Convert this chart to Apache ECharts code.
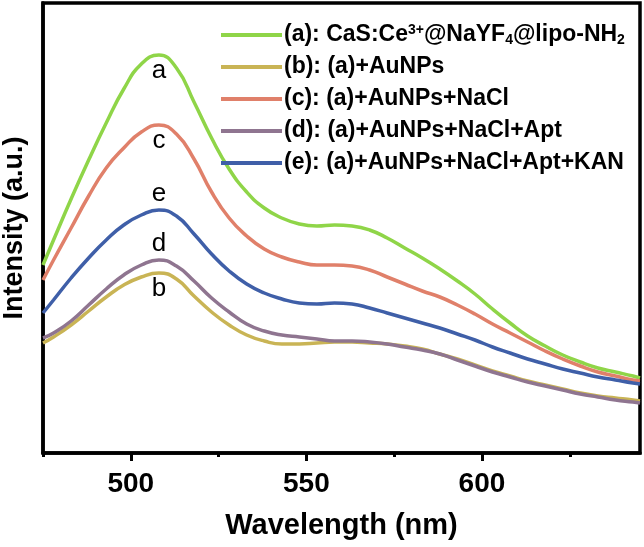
<!DOCTYPE html>
<html>
<head>
<meta charset="utf-8">
<script src="https://cdn.jsdelivr.net/npm/echarts@6/dist/echarts.min.js"></script>
<style>
  html, body { margin: 0; padding: 0; background: #fff; }
  #chart { width: 644px; height: 547px; }
</style>
</head>
<body>
<div id="chart"></div>
<script>
// wavelength (nm); the 5 nm steps are placed so the peak (508 nm) falls on a point
var wavelength = [475, 478, 483, 488, 493, 498, 503, 508, 513, 518,
                  523, 528, 533, 538, 543, 548, 553, 558, 563, 568,
                  573, 578, 583, 588, 593, 598, 603, 608, 613, 618,
                  623, 628, 633, 638, 643, 645];

// intensity (a.u.)
var curveA = [188, 213, 254, 293, 330, 364, 389, 398, 385, 351,
              315, 284, 261, 245, 235, 229, 227, 228, 227, 223,
              215, 205, 195, 184, 172, 159, 144, 130, 117, 107,
              98, 91, 85, 81, 77, 75];
var curveB = [110, 116, 128, 142, 156, 168, 176, 180, 174, 157,
              141, 128, 118, 112, 109, 109, 110, 111, 111, 110,
              109, 107, 104, 99, 94, 88, 82, 77, 72, 68,
              64, 60, 57, 55, 53, 52];
var curveC = [173, 193, 225, 257, 285, 305, 321, 328, 319, 294,
              261, 235, 217, 204, 196, 191, 188, 188, 187, 183,
              176, 169, 162, 156, 148, 139, 129, 120, 111, 102,
              94, 87, 81, 77, 73, 72];
var curveD = [115, 120, 132, 148, 164, 178, 188, 193, 187, 172,
              155, 141, 129, 122, 118, 116, 114, 112, 112, 111,
              109, 106, 103, 99, 93, 87, 81, 76, 71, 67,
              63, 59, 56, 53, 51, 50];
var curveE = [140, 153, 175, 195, 213, 228, 238, 243, 237, 219,
              199, 182, 169, 160, 154, 150, 149, 150, 149, 145,
              140, 135, 130, 125, 119, 113, 106, 100, 94, 89,
              84, 80, 76, 73, 70, 69];

var seriesKeys = ['a', 'b', 'c', 'd', 'e'];
var legendText = {
    a: '(a): CaS:Ce{sup|3+}@NaYF{sub|4}@lipo-NH{sub|2}',
    b: '(b): (a)+AuNPs',
    c: '(c): (a)+AuNPs+NaCl',
    d: '(d): (a)+AuNPs+NaCl+Apt',
    e: '(e): (a)+AuNPs+NaCl+Apt+KAN'
};
var colors = ['#8fd548', '#c9b455', '#e0806a', '#8f7590', '#3f5fa8'];
var curves = [curveA, curveB, curveC, curveD, curveE];
// letter above or below the peak
var letterPos = ['bottom', 'bottom', 'bottom', 'top', 'top'];
var majorTicks = [500, 550, 600];
var minorTicks = [475, 525, 575, 625];

var FONT = 'Liberation Sans, Arial';

function pairs(ys) {
    return wavelength.map(function (x, i) { return [x, ys[i]]; });
}

var series = seriesKeys.map(function (k, i) {
    return {
        name: k,
        type: 'line',
        smooth: 0.5,
        symbol: 'none',
        data: pairs(curves[i]),
        lineStyle: { color: colors[i], width: 3.5 },
        itemStyle: { color: colors[i] },
        markPoint: {
            symbolSize: 0,
            data: [{ type: 'max' }],
            label: {
                show: true,
                position: letterPos[i],
                distance: 3,
                formatter: k,
                color: '#000',
                fontSize: 26,
                fontFamily: FONT
            }
        }
    };
});

var myChart = echarts.init(document.getElementById('chart'));
var option = {
    animation: false,
    grid: {
        left: 43, right: 4, top: 3, bottom: 94,
        outerBoundsMode: 'none',
        containLabel: false,
        show: true,
        borderColor: '#000',
        borderWidth: 3.5
    },
    legend: {
        orient: 'vertical',
        left: 216,
        top: 18,
        icon: 'rect',
        itemWidth: 61,
        itemHeight: 4,
        itemGap: 8,
        data: seriesKeys,
        formatter: function (name) { return legendText[name]; },
        textStyle: {
            fontFamily: FONT,
            fontWeight: 'bold',
            fontSize: 23,
            color: '#000',
            lineHeight: 24,
            padding: [0, 0, 0, -3],
            rich: {
                sup: { fontSize: 14, fontWeight: 'bold', verticalAlign: 'top', lineHeight: 24, fontFamily: FONT, color: '#000' },
                sub: { fontSize: 14, fontWeight: 'bold', verticalAlign: 'bottom', lineHeight: 24, fontFamily: FONT, color: '#000' }
            }
        }
    },
    xAxis: [{
        type: 'value',
        min: 475,
        max: 645,
        name: 'Wavelength (nm)',
        nameLocation: 'middle',
        nameGap: 58,
        nameTextStyle: { fontFamily: FONT, fontWeight: 'bold', fontSize: 29, color: '#000' },
        axisLine: { show: true, lineStyle: { color: '#000', width: 3.5 } },
        axisTick: { show: true, customValues: majorTicks, length: 8, lineStyle: { color: '#000', width: 3 } },
        axisLabel: {
            customValues: majorTicks,
            margin: 17,
            fontFamily: FONT,
            fontWeight: 'bold',
            fontSize: 28,
            color: '#000'
        },
        splitLine: { show: false }
    }, {
        type: 'value',
        min: 475,
        max: 645,
        position: 'bottom',
        axisLine: { show: false },
        axisTick: { show: true, customValues: minorTicks, length: 4, lineStyle: { color: '#000', width: 3 } },
        axisLabel: { show: false },
        splitLine: { show: false }
    }],
    yAxis: {
        type: 'value',
        min: 0,
        max: 450,
        name: 'Intensity (a.u.)',
        nameLocation: 'middle',
        nameGap: 15,
        nameTextStyle: { fontFamily: FONT, fontWeight: 'bold', fontSize: 27, color: '#000' },
        axisLine: { show: true, lineStyle: { color: '#000', width: 3.5 } },
        axisTick: { show: false },
        axisLabel: { show: false },
        splitLine: { show: false }
    },
    series: series
};

myChart.setOption(option);
</script>
</body>
</html>
